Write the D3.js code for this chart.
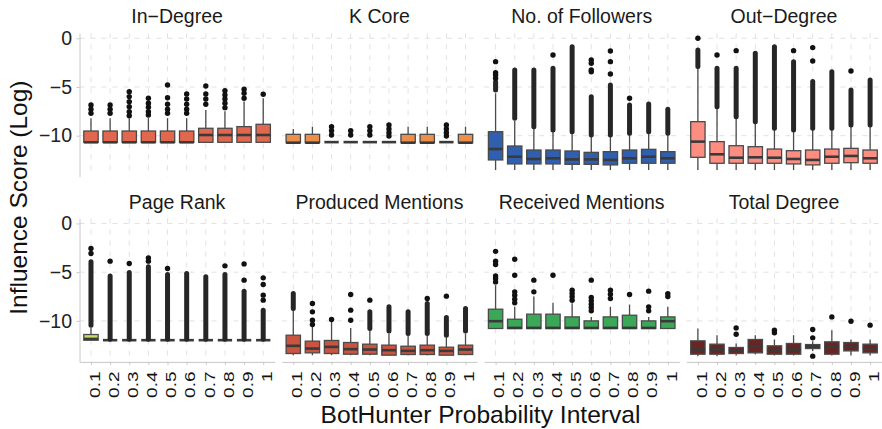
<!DOCTYPE html>
<html><head><meta charset="utf-8">
<script src="https://cdn.jsdelivr.net/npm/d3@7"></script>
<style>body{margin:0;background:#fff}</style>
</head><body>
<svg id="c" width="882" height="429"></svg>
<script>
// ---------------- DATA ----------------
const categories = ["0.1","0.2","0.3","0.4","0.5","0.6","0.7","0.8","0.9","1"];
const panelTitles = ["In\u2212Degree","K Core","No. of Followers","Out\u2212Degree","Page Rank","Produced Mentions","Received Mentions","Total Degree"];
const yTicks = [0, -5, -10];
const yTickLabels = ["0", "\u22125", "\u221210"];
const xTitle = "BotHunter Probability Interval";
const yTitle = "Influence Score (Log)";

// box stats per interval: [lower whisker, Q1, median, Q3, upper whisker]
const inDegreeBoxes = [
  [-10.68,-10.68,-10.68,-9.52,-8.2],[-10.68,-10.68,-10.68,-9.52,-8.2],[-10.68,-10.68,-10.68,-9.52,-8.2],
  [-10.68,-10.68,-10.68,-9.52,-8.2],[-10.68,-10.68,-10.68,-9.52,-8.2],[-10.68,-10.68,-10.68,-9.52,-8.2],
  [-10.68,-10.68,-9.93,-9.24,-7.36],[-10.68,-10.68,-9.93,-9.24,-7.5],[-10.68,-10.68,-9.93,-9.07,-6.5],
  [-10.68,-10.68,-9.93,-8.83,-6.16]];
const inDegreeOutliers = [[-6.85,-7.29,-7.70],[-6.85,-7.29,-7.70],[-5.48,-5.99,-6.51,-7.02,-7.54,-7.95],
  [-6.16,-6.67,-7.08,-7.54,-7.88],[-4.79,-6.10,-6.78,-7.29,-7.70],[-5.72,-6.23,-6.78,-7.29,-7.70],
  [-4.9,-5.72,-6.23,-6.78],[-5.38,-5.82,-6.23,-6.67,-7.12],[-5.24,-5.65,-6.16],[-5.75]];
const inDegreeRuns = [[],[],[],[],[],[],[],[],[],[]];

const kCoreBoxes = [
  [-10.72,-10.72,-10.72,-9.86,-9.31],[-10.72,-10.72,-10.72,-9.86,-9.08],[-10.66,-10.66,-10.66,-10.66,-10.66],
  [-10.66,-10.66,-10.66,-10.66,-10.66],[-10.66,-10.66,-10.66,-10.66,-10.66],[-10.66,-10.66,-10.66,-10.66,-10.66],
  [-10.72,-10.72,-10.72,-9.86,-9.08],[-10.72,-10.72,-10.72,-9.86,-9.08],[-10.66,-10.66,-10.66,-10.66,-10.66],
  [-10.72,-10.72,-10.72,-9.86,-9.08]];
const kCoreOutliers = [[],[],[-9.07,-9.49,-9.93],[-9.49,-9.93],[-9.07,-9.49,-9.93],[-8.9,-9.31,-9.69,-10.03],
  [],[],[-8.9,-9.31,-9.69,-10.03],[]];
const kCoreRuns = [[],[],[],[],[],[],[],[],[],[]];

const followersBoxes = [
  [-13.52,-12.49,-11.37,-9.59,-5.65],[-13.52,-12.9,-12.16,-11.06,-8.5],[-13.52,-12.9,-12.39,-11.47,-9.3],
  [-13.52,-12.9,-12.32,-11.47,-9.6],[-13.52,-12.94,-12.43,-11.57,-9.8],[-13.52,-12.94,-12.43,-11.71,-10.0],
  [-13.52,-13.0,-12.49,-11.64,-10.0],[-13.52,-12.83,-12.32,-11.47,-9.8],[-13.52,-12.83,-12.16,-11.4,-9.7],
  [-13.52,-12.83,-12.32,-11.64,-9.8]];
const followersOutliers = [[-2.4,-3.53,-3.77,-4.11],[],[],[-1.71],[],[-2.23,-2.57,-3.25,-3.43],
  [-1.3,-2.4,-3.67],[-6.16],[],[]];
const followersRuns = [[[-5.31,-4.46]],[[-8.21,-3.25]],[[-9.07,-3.25]],[[-9.41,-3.08]],[[-9.59,-0.86]],
  [[-9.93,-6.0]],[[-9.93,-4.79]],[[-9.76,-6.85]],[[-9.6,-6.75]],[[-9.76,-7.29]]];

const outDegreeBoxes = [
  [-13.52,-12.22,-10.61,-8.56,-3.08],[-13.52,-12.83,-11.91,-10.61,-7.19],[-13.52,-12.83,-12.26,-11.03,-8.21],
  [-13.52,-12.83,-12.22,-11.13,-8.73],[-13.52,-12.83,-12.26,-11.37,-9.4],[-13.52,-12.9,-12.39,-11.54,-9.6],
  [-13.52,-13.0,-12.49,-11.47,-9.4],[-13.52,-12.83,-12.16,-11.37,-9.4],[-13.52,-12.77,-12.08,-11.3,-9.0],
  [-13.52,-12.83,-12.32,-11.47,-9.0]];
const outDegreeOutliers = [[0.0],[-1.71],[-1.27],[],[],[-1.27],[-0.96,-2.33],[],[-3.36],[]];
const outDegreeRuns = [[[-2.91,-1.2]],[[-7.02,-3.08]],[[-8.05,-3.08]],[[-8.56,-1.54]],[[-9.24,-0.86]],
  [[-9.41,-2.4]],[[-9.24,-4.45]],[[-9.24,-3.43]],[[-8.9,-5.31]],[[-8.9,-4.28]]];

const pageRankBoxes = [
  [-11.98,-11.98,-11.85,-11.4,-10.7],[-11.98,-11.98,-11.98,-11.98,-11.98],[-11.98,-11.98,-11.98,-11.98,-11.98],
  [-11.98,-11.98,-11.98,-11.98,-11.98],[-11.98,-11.98,-11.98,-11.98,-11.98],[-11.98,-11.98,-11.98,-11.98,-11.98],
  [-11.98,-11.98,-11.98,-11.98,-11.98],[-11.98,-11.98,-11.98,-11.98,-11.98],[-11.98,-11.98,-11.98,-11.98,-11.98],
  [-11.98,-11.98,-11.98,-11.98,-11.98]];
const pageRankOutliers = [[-2.57,-3.08],[-3.87],[-4.11],[-3.53,-3.87],[-4.62],[],[],[-4.35],[-4.15,-5.82],
  [-5.58,-6.26,-7.36,-7.87]];
const pageRankRuns = [[[-10.44,-3.94]],[[-11.88,-5.38]],[[-11.88,-5.03]],[[-11.88,-4.45]],[[-11.88,-5.24]],
  [[-11.88,-5.13]],[[-11.88,-5.48]],[[-11.88,-5.24]],[[-11.88,-6.95]],[[-11.88,-8.9]]];

const producedBoxes = [
  [-13.52,-13.35,-12.56,-11.47,-8.9],[-13.52,-13.28,-12.84,-12.08,-10.61],[-13.52,-13.35,-12.67,-12.01,-10.1],
  [-13.52,-13.42,-12.9,-12.22,-10.72],[-13.52,-13.42,-12.94,-12.39,-11.0],[-13.52,-13.52,-13.01,-12.49,-11.3],
  [-13.52,-13.45,-13.08,-12.6,-11.5],[-13.52,-13.45,-13.01,-12.49,-11.5],[-13.52,-13.52,-13.08,-12.7,-11.7],
  [-13.52,-13.45,-12.94,-12.49,-11.3]];
const producedOutliers = [[],[-8.21,-9.07,-9.93,-10.37],[-9.85],[-7.29,-8.9,-9.93],[-7.87],[],[],[-7.7],[-7.46],[]];
const producedRuns = [[[-8.73,-7.19]],[],[],[],[[-10.78,-9.07]],[[-11.03,-8.56]],[[-11.3,-9.07]],
  [[-11.3,-8.21]],[[-11.47,-9.65]],[[-11.03,-8.73]]];

const receivedBoxes = [
  [-10.78,-10.78,-10.03,-8.8,-6.33],[-10.78,-10.78,-10.72,-9.83,-8.56],[-10.78,-10.78,-10.72,-9.31,-7.5],
  [-10.78,-10.78,-10.72,-9.31,-8.15],[-10.78,-10.78,-10.72,-9.59,-8.19],[-10.78,-10.78,-10.72,-10.0,-9.6],
  [-10.78,-10.78,-10.72,-9.59,-8.56],[-10.78,-10.78,-10.72,-9.42,-8.32],[-10.78,-10.78,-10.72,-10.0,-9.6],
  [-10.78,-10.78,-10.03,-9.59,-8.56]];
const receivedOutliers = [[-2.86,-3.87,-4.21,-5.38,-5.65,-6.0],[-3.67,-5.31,-7.02,-7.36,-7.77,-8.15],
  [-5.82,-7.02],[-5.31],[-6.85,-7.19,-7.53,-7.88],[-5.82,-7.6,-7.94,-8.28,-8.62,-8.97],[-6.85,-7.26,-7.7],
  [-7.29],[-6.95,-8.56,-8.97],[-7.2,-7.5]];
const receivedRuns = [[],[],[],[],[],[],[],[],[],[]];

const totalDegreeBoxes = [
  [-13.62,-13.42,-12.94,-12.05,-10.78],[-13.62,-13.42,-12.94,-12.39,-11.47],[-13.55,-13.35,-13.0,-12.73,-12.32],
  [-13.42,-13.28,-12.6,-11.91,-11.47],[-13.55,-13.42,-13.0,-12.56,-11.91],[-13.55,-13.42,-12.94,-12.32,-11.47],
  [-13.1,-12.84,-12.6,-12.43,-12.1],[-13.55,-13.42,-12.67,-12.15,-10.95],[-13.55,-13.08,-12.67,-12.22,-11.9],
  [-13.55,-13.28,-12.84,-12.39,-11.9]];
const totalDegreeOutliers = [[],[],[-10.72,-11.37],[],[-10.95,-11.23],[],[-10.89,-11.74,-13.62],[-9.59],[-10.03],[-10.44]];
const totalDegreeRuns = [[],[],[],[],[],[],[],[],[],[]];

// ---------------- STYLE ----------------
const fills = ["#E2674F","#EB8F4B","#2F5FAE","#FC8D80","#C6DD67","#C9543F","#3BA858","#6A2522"];
const FONT = "'Liberation Sans', Arial, Helvetica, sans-serif";

const panels = [
  [inDegreeBoxes, inDegreeOutliers, inDegreeRuns],
  [kCoreBoxes, kCoreOutliers, kCoreRuns],
  [followersBoxes, followersOutliers, followersRuns],
  [outDegreeBoxes, outDegreeOutliers, outDegreeRuns],
  [pageRankBoxes, pageRankOutliers, pageRankRuns],
  [producedBoxes, producedOutliers, producedRuns],
  [receivedBoxes, receivedOutliers, receivedRuns],
  [totalDegreeBoxes, totalDegreeOutliers, totalDegreeRuns]
].map((d, i) => ({title: panelTitles[i], boxes: d[0], outliers: d[1], runs: d[2], fill: fills[i]}));

// ---------------- LAYOUT ----------------
const svg = d3.select("#c");
const PL = 79.5, PW = 195.2, PG = 7.1, PT = [33.3, 218.5], PH = 143.4;
const yDomain = [-14.21, 0.51];
const GRID = "#e2e2e2", AXIS = "#c8c8c8";

panels.forEach((p, i) => {
  const col = i % 4, row = Math.floor(i / 4);
  const x0 = PL + col * (PW + PG), y0 = PT[row];
  const x = d3.scalePoint().domain(categories).range([x0, x0 + PW]).padding(0.6);
  const y = d3.scaleLinear().domain(yDomain).range([y0 + PH, y0]);
  const bw = x.step() * 0.75;
  const g = svg.append("g");

  // grid
  g.selectAll(".gx").data(categories).join("line")
    .attr("x1", d => x(d)).attr("x2", d => x(d)).attr("y1", y0).attr("y2", y0 + PH)
    .attr("stroke", GRID).attr("stroke-width", 1).attr("stroke-dasharray", "5,6");
  g.selectAll(".gy").data(yTicks).join("line")
    .attr("x1", x0).attr("x2", x0 + PW).attr("y1", d => y(d)).attr("y2", d => y(d))
    .attr("stroke", GRID).attr("stroke-width", 1).attr("stroke-dasharray", "5,6");

  // axes
  if (col === 0) {
    const ax = g.append("g").attr("transform", `translate(${x0},0)`)
      .call(d3.axisLeft(y).tickValues(yTicks).tickFormat((d, k) => yTickLabels[k]).tickSize(3).tickSizeOuter(0).tickPadding(4.5));
    ax.select(".domain").attr("stroke", AXIS);
    ax.selectAll(".tick line").attr("stroke", AXIS);
    ax.selectAll("text").attr("font-family", FONT).attr("font-size", 19.5).attr("fill", "#222");
  }
  if (row === 1) {
    const ax = g.append("g").attr("transform", `translate(0,${y0 + PH})`)
      .call(d3.axisBottom(x).tickSize(3).tickSizeOuter(0));
    ax.select(".domain").attr("stroke", AXIS);
    ax.selectAll(".tick line").attr("stroke", AXIS);
    ax.selectAll("text").attr("y", null).attr("dy", null)
      .attr("text-anchor", "end")
      .attr("transform", "translate(8.2,9.6) rotate(-90) scale(1,0.74)")
      .attr("font-family", FONT).attr("font-size", 19).attr("fill", "#111");
  }

  // facet title
  g.append("text").attr("x", x0 + PW / 2).attr("y", y0 - 10)
    .attr("text-anchor", "middle").attr("font-family", FONT).attr("font-size", 19.5).attr("fill", "#1a1a1a")
    .text(p.title);

  // boxes
  const bx = g.selectAll(".box").data(p.boxes).join("g");
  bx.append("line").attr("x1", (d, k) => x(categories[k])).attr("x2", (d, k) => x(categories[k]))
    .attr("y1", d => y(d[4])).attr("y2", d => y(d[3])).attr("stroke", "#4a4a4a").attr("stroke-width", 1.3);
  bx.append("line").attr("x1", (d, k) => x(categories[k])).attr("x2", (d, k) => x(categories[k]))
    .attr("y1", d => y(d[1])).attr("y2", d => y(d[0])).attr("stroke", "#4a4a4a").attr("stroke-width", 1.3);
  bx.append("rect").attr("x", (d, k) => x(categories[k]) - bw / 2).attr("width", bw)
    .attr("y", d => y(d[3])).attr("height", d => y(d[1]) - y(d[3]))
    .attr("fill", p.fill).attr("stroke", "#4a4a4a").attr("stroke-width", 1.3);
  bx.append("line").attr("x1", (d, k) => x(categories[k]) - bw / 2).attr("x2", (d, k) => x(categories[k]) + bw / 2)
    .attr("y1", d => y(d[2])).attr("y2", d => y(d[2])).attr("stroke", "#3a3a3a").attr("stroke-width", 2.6);

  // outlier runs (dense stacks of points)
  p.runs.forEach((rs, k) => {
    g.selectAll(null).data(rs).join("line")
      .attr("x1", x(categories[k])).attr("x2", x(categories[k]))
      .attr("y1", d => y(d[0])).attr("y2", d => y(d[1]))
      .attr("stroke", "#262626").attr("stroke-width", 5).attr("stroke-linecap", "round");
  });
  // individual outliers
  p.outliers.forEach((os, k) => {
    g.selectAll(null).data(os).join("circle")
      .attr("cx", x(categories[k])).attr("cy", d => y(d)).attr("r", 2.7).attr("fill", "#111");
  });
});

// axis titles
svg.append("text").attr("x", PL + (4 * PW + 3 * PG) / 2).attr("y", 423)
  .attr("text-anchor", "middle").attr("font-family", FONT).attr("font-size", 24.6).attr("fill", "#111").text(xTitle);
svg.append("text").attr("transform", `translate(26.5,${(PT[0] + PT[1] + PH) / 2}) rotate(-90)`)
  .attr("text-anchor", "middle").attr("font-family", FONT).attr("font-size", 24.5).attr("fill", "#111").text(yTitle);
</script>
</body></html>
